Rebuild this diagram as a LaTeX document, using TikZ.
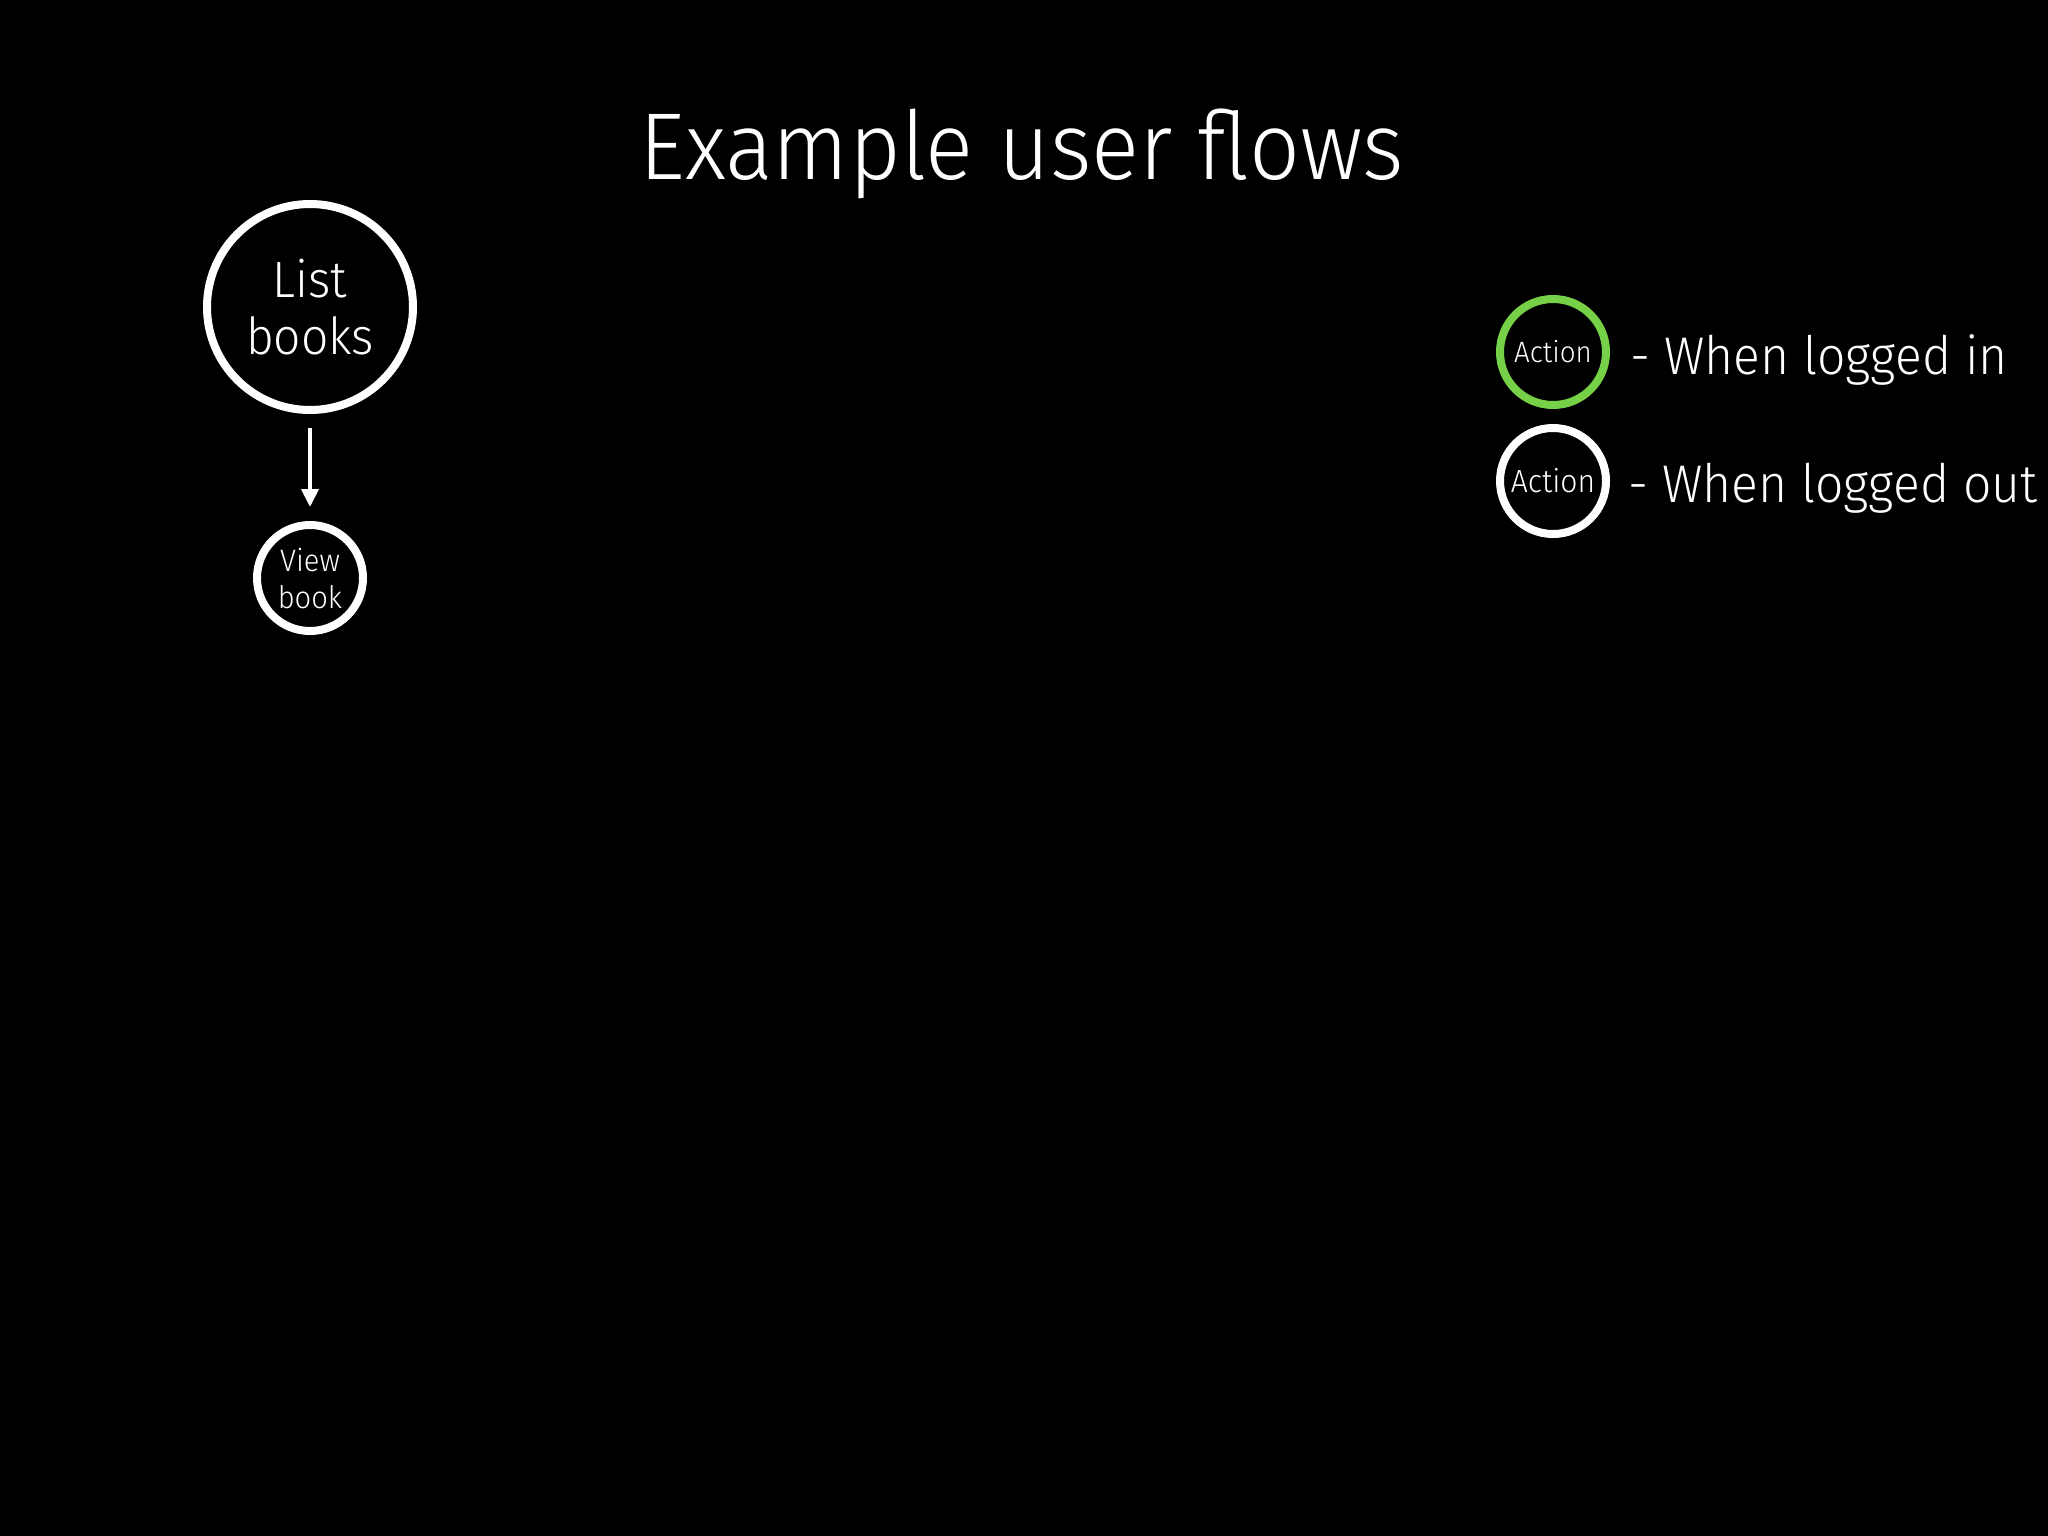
\documentclass[tikz,border=0pt]{standalone}
\usepackage{fontspec}
\setmainfont{Fira Sans Light}[FakeStretch=0.94]
\usetikzlibrary{arrows.meta}
\definecolor{loggedin}{RGB}{118,208,72}
\begin{document}
\begin{tikzpicture}[x=1pt,y=-1pt,
	flow/.style={circle, draw=white, line width=8pt, text=white, align=center, inner sep=0pt},
	legend/.style={text=white, anchor=base west, font=\fontsize{53}{53}\selectfont}]
	\useasboundingbox (0,0) rectangle (2048,1536);
	\fill[black] (0,0) rectangle (2048,1536);
	\node[text=white, anchor=base, font=\fontsize{95}{95}\selectfont] (title) at (1022,179) {Example user flows};
	\node[flow, minimum size=206pt, font=\fontsize{51}{57}\selectfont] (list) at (310,307) {List\\books};
	\node[flow, minimum size=106pt, font=\fontsize{31}{37}\selectfont] (view) at (310,578) {View\\book};
	\draw[white, line width=4pt, shorten <=14pt, shorten >=14pt, -{Triangle[length=18pt,width=17pt]}] (list) -- (view);
	\node[flow, draw=loggedin, minimum size=106pt, font=\fontsize{29.5}{29.5}\selectfont] (in) at (1553,352) {Action};
	\node[flow, minimum size=106pt, font=\fontsize{32}{32}\selectfont] (out) at (1553,481) {Action};
	\node[legend] (intext) at (1627,374) {- When logged in};
	\node[legend] (outtext) at (1625,502) {- When logged out};
\end{tikzpicture}
\end{document}
